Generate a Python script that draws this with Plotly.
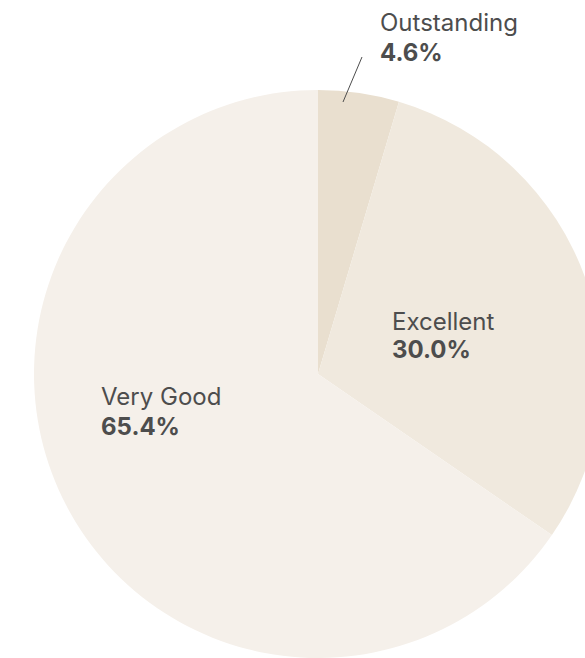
import plotly.graph_objects as go

labels = ["Outstanding", "Excellent", "Very Good"]
values = [4.6, 30.0, 65.4]
colors = ["#e9dfcf", "#f0e9de", "#f5f0ea"]

W, H = 640, 700
cx, cy, R = 318, 374, 284

fig = go.Figure(go.Pie(
    labels=labels, values=values, sort=False, direction="clockwise", rotation=0,
    marker=dict(colors=colors, line=dict(width=0)),
    textinfo="none", hoverinfo="label+percent", showlegend=False,
    domain=dict(x=[(cx - R) / W, (cx + R) / W], y=[1 - (cy + R) / H, 1 - (cy - R) / H]),
))

font = dict(family="Inter, Lato, sans-serif", size=24, color="#4d4d4d")
# (left x, cap-middle y of name line, cap-middle y of value line)
label_pos = {"Outstanding": (380, 22, 52), "Excellent": (392, 321, 349), "Very Good": (101, 396, 426)}
for lab, val in zip(labels, values):
    x, y1, y2 = label_pos[lab]
    fig.add_annotation(x=x / W, y=1 - y1 / H, xref="paper", yref="paper",
                       xanchor="left", yanchor="middle", align="left", showarrow=False,
                       text=lab, font=font, xshift=-2)
    fig.add_annotation(x=x / W, y=1 - y2 / H, xref="paper", yref="paper",
                       xanchor="left", yanchor="middle", align="left", showarrow=False,
                       text=f"<b>{val:.1f}%</b>", font=font, xshift=-2)

fig.add_shape(type="line", xref="paper", yref="paper",
              x0=343 / W, y0=1 - 102 / H, x1=362 / W, y1=1 - 57 / H,
              line=dict(color="#4d4d4d", width=1))

fig.update_layout(width=W, height=H, margin=dict(l=0, r=0, t=0, b=0),
                  paper_bgcolor="white", plot_bgcolor="white")

fig.write_html("out.html", post_script=(
    "document.body.style.margin='0';document.body.style.overflow='hidden';"
    "document.documentElement.style.overflow='hidden';"))
